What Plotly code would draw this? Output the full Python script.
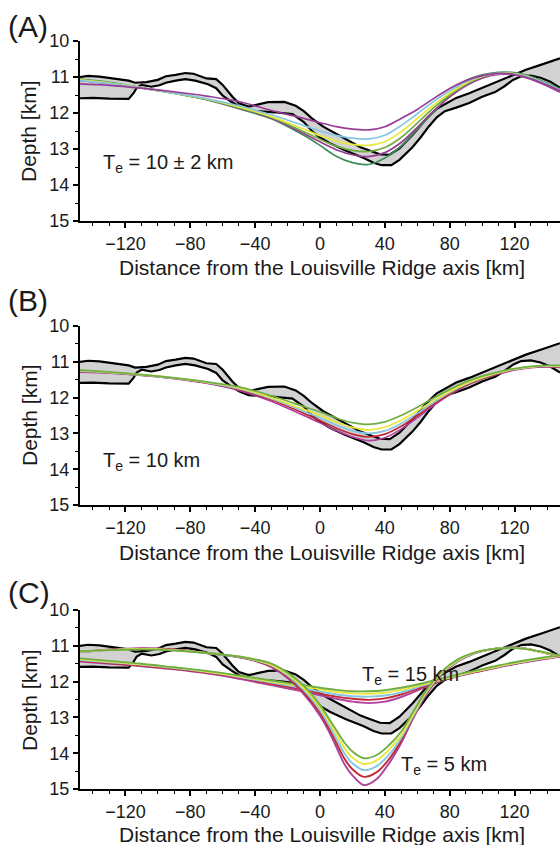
import plotly.graph_objects as go

# ---------------- data ----------------
# observed bathymetry envelope (km along profile, depth km)
TOP_X = [-148, -143, -136, -130, -124, -118, -114, -107, -100, -95, -89, -83, -78, -74, -70, -64, -60, -54, -50, -44,
         -39, -32, -22, -15, -10, -5, 2, 10, 17, 25, 31, 37, 43, 49, 57, 62, 66, 72, 78, 84, 92, 100, 108, 117, 127, 137, 148]
TOP_D = [11.00, 10.97, 10.99, 11.03, 11.06, 11.10, 11.16, 11.14, 11.08, 10.98, 10.94, 10.89, 10.91, 10.98, 11.04, 11.06,
         11.22, 11.55, 11.73, 11.82, 11.77, 11.70, 11.69, 11.80, 11.95, 12.15, 12.38, 12.58, 12.75, 12.95, 13.05, 13.15,
         13.16, 12.98, 12.61, 12.35, 12.14, 11.88, 11.72, 11.58, 11.45, 11.30, 11.15, 10.97, 10.80, 10.65, 10.48]
BOT_X = [-148, -140, -130, -118, -115, -113, -110, -104, -99, -95, -89, -83, -77, -69, -64, -60, -55, -50, -44, -36,
         -28, -17, -10, -5, 0, 6, 16, 27, 33, 38, 44, 49, 53, 57, 62, 67, 72, 77, 84, 92, 100, 108, 114, 119, 124, 130,
         136, 142, 148]
BOT_D = [11.59, 11.58, 11.60, 11.61, 11.45, 11.30, 11.22, 11.27, 11.23, 11.16, 11.10, 11.06, 11.10, 11.20, 11.31, 11.52,
         11.68, 11.82, 11.93, 11.95, 11.98, 12.03, 12.25, 12.50, 12.68, 12.84, 13.05, 13.25, 13.38, 13.45, 13.45, 13.30,
         13.12, 12.95, 12.68, 12.38, 12.12, 11.95, 11.85, 11.72, 11.55, 11.42, 11.25, 11.08, 10.98, 10.96, 11.02, 11.13,
         11.30]

MODEL_X = [-148, -130, -110, -90, -70, -50, -30, -10, 0, 10, 20, 30, 40, 50, 60, 70, 80, 90, 100, 110, 120, 130, 140, 148]

# panel A models (Te = 10 +/- 2 km)
A_PURPLE1 = [11.19, 11.23, 11.31, 11.41, 11.53, 11.68, 11.93, 12.15, 12.27, 12.38, 12.45, 12.47, 12.38, 12.15, 11.90, 11.60, 11.32, 11.10, 10.96, 10.90, 10.93, 11.05, 11.22, 11.38]
A_BLUE = [11.10, 11.18, 11.30, 11.44, 11.60, 11.80, 12.05, 12.35, 12.50, 12.62, 12.70, 12.72, 12.62, 12.35, 12.02, 11.68, 11.38, 11.13, 10.97, 10.90, 10.92, 11.03, 11.20, 11.36]
A_YELLOW = [11.08, 11.17, 11.30, 11.44, 11.61, 11.83, 12.10, 12.45, 12.63, 12.78, 12.87, 12.90, 12.80, 12.52, 12.15, 11.78, 11.45, 11.17, 10.98, 10.90, 10.91, 11.02, 11.20, 11.37]
A_GREEN = [11.07, 11.16, 11.30, 11.45, 11.62, 11.85, 12.12, 12.52, 12.73, 12.92, 13.04, 13.07, 12.96, 12.68, 12.28, 11.86, 11.50, 11.20, 11.00, 10.90, 10.90, 11.01, 11.20, 11.38]
A_PURPLE2 = [11.10, 11.18, 11.31, 11.45, 11.62, 11.86, 12.14, 12.57, 12.80, 13.02, 13.16, 13.21, 13.10, 12.82, 12.40, 11.95, 11.55, 11.24, 11.03, 10.93, 10.94, 11.06, 11.25, 11.42]
A_DKGREEN = [11.06, 11.15, 11.30, 11.45, 11.63, 11.88, 12.16, 12.62, 12.90, 13.20, 13.38, 13.43, 13.25, 12.92, 12.45, 11.98, 11.50, 11.10, 10.94, 10.87, 10.88, 10.99, 11.17, 11.33]

# panel B models (Te = 10 km)
B_GREEN = [11.23, 11.28, 11.36, 11.45, 11.56, 11.70, 11.95, 12.25, 12.40, 12.57, 12.70, 12.75, 12.68, 12.50, 12.27, 12.01, 11.77, 11.56, 11.40, 11.28, 11.19, 11.13, 11.10, 11.10]
B_YELLOW = [11.24, 11.29, 11.36, 11.45, 11.57, 11.73, 12.00, 12.33, 12.50, 12.68, 12.83, 12.90, 12.82, 12.63, 12.37, 12.09, 11.83, 11.61, 11.44, 11.30, 11.20, 11.14, 11.11, 11.12]
B_BLUE = [11.26, 11.30, 11.37, 11.46, 11.58, 11.75, 12.03, 12.38, 12.57, 12.77, 12.93, 13.00, 12.93, 12.72, 12.44, 12.14, 11.86, 11.63, 11.45, 11.31, 11.21, 11.15, 11.12, 11.13]
B_RED = [11.27, 11.31, 11.37, 11.46, 11.59, 11.77, 12.06, 12.44, 12.64, 12.85, 13.02, 13.10, 13.02, 12.80, 12.50, 12.18, 11.89, 11.65, 11.47, 11.33, 11.22, 11.15, 11.13, 11.14]
B_PURPLE = [11.29, 11.32, 11.38, 11.47, 11.60, 11.80, 12.10, 12.50, 12.70, 12.92, 13.10, 13.20, 13.12, 12.88, 12.56, 12.22, 11.92, 11.67, 11.48, 11.34, 11.23, 11.16, 11.14, 11.15]

# panel C models, Te = 15 km
C15_GREEN = [11.35, 11.42, 11.50, 11.60, 11.70, 11.83, 11.97, 12.10, 12.17, 12.23, 12.27, 12.27, 12.24, 12.17, 12.08, 11.97, 11.86, 11.75, 11.65, 11.55, 11.46, 11.38, 11.31, 11.26]
C15_YELLOW = [11.37, 11.44, 11.52, 11.61, 11.72, 11.85, 12.00, 12.14, 12.22, 12.29, 12.33, 12.34, 12.31, 12.23, 12.12, 12.00, 11.88, 11.77, 11.67, 11.57, 11.48, 11.40, 11.33, 11.28]
C15_BLUE = [11.40, 11.46, 11.53, 11.62, 11.73, 11.87, 12.03, 12.19, 12.28, 12.36, 12.41, 12.42, 12.39, 12.30, 12.16, 12.02, 11.89, 11.78, 11.68, 11.58, 11.49, 11.41, 11.34, 11.29]
C15_RED = [11.42, 11.48, 11.55, 11.64, 11.75, 11.89, 12.06, 12.23, 12.33, 12.42, 12.48, 12.51, 12.47, 12.36, 12.20, 12.04, 11.90, 11.79, 11.69, 11.59, 11.50, 11.42, 11.35, 11.30]
C15_PURPLE = [11.44, 11.50, 11.57, 11.66, 11.77, 11.92, 12.10, 12.28, 12.38, 12.48, 12.56, 12.60, 12.56, 12.43, 12.25, 12.06, 11.91, 11.80, 11.70, 11.60, 11.51, 11.43, 11.36, 11.31]

# panel C models, Te = 5 km
C5_X = [-148, -130, -110, -90, -70, -50, -40, -30, -20, -10, 0, 5, 10, 15, 20, 27, 35, 42, 50, 57, 65, 75, 85, 95, 105, 115, 125, 135, 148]
C5_GREEN = [11.15, 11.12, 11.10, 11.13, 11.20, 11.30, 11.38, 11.50, 11.75, 12.12, 12.65, 13.00, 13.35, 13.70, 13.95, 14.14, 14.05, 13.80, 13.40, 12.88, 12.28, 11.72, 11.38, 11.19, 11.10, 11.06, 11.08, 11.15, 11.28]
C5_YELLOW = [11.16, 11.12, 11.09, 11.12, 11.20, 11.30, 11.39, 11.53, 11.79, 12.18, 12.72, 13.08, 13.46, 13.85, 14.12, 14.30, 14.20, 13.93, 13.50, 12.95, 12.32, 11.75, 11.40, 11.20, 11.10, 11.06, 11.08, 11.16, 11.29]
C5_BLUE = [11.17, 11.12, 11.09, 11.12, 11.20, 11.31, 11.40, 11.55, 11.83, 12.24, 12.80, 13.17, 13.58, 14.00, 14.28, 14.47, 14.36, 14.07, 13.58, 13.00, 12.35, 11.77, 11.42, 11.21, 11.10, 11.05, 11.07, 11.16, 11.29]
C5_RED = [11.17, 11.11, 11.08, 11.11, 11.20, 11.31, 11.41, 11.57, 11.87, 12.30, 12.87, 13.26, 13.70, 14.15, 14.45, 14.66, 14.53, 14.20, 13.65, 13.03, 12.37, 11.79, 11.43, 11.21, 11.10, 11.05, 11.07, 11.16, 11.30]
C5_PURPLE = [11.18, 11.11, 11.07, 11.10, 11.20, 11.32, 11.42, 11.60, 11.90, 12.35, 12.95, 13.35, 13.82, 14.30, 14.62, 14.89, 14.72, 14.32, 13.72, 13.07, 12.40, 11.80, 11.44, 11.22, 11.10, 11.05, 11.07, 11.16, 11.30]

X_TICKS = [-120, -80, -40, 0, 40, 80, 120]
Y_TICKS = [10, 11, 12, 13, 14, 15]
PANEL_LABELS = ["(A)", "(B)", "(C)"]
X_TITLE = "Distance from the Louisville Ridge axis [km]"
Y_TITLE = "Depth [km]"

# ---------------- style ----------------
W, H = 560, 845
FONT = "Liberation Sans, Arial, Helvetica, sans-serif"
TXT = "#1a1a1a"
GRAY = "#d2d2d2"
PURPLE = "#9a3c96"
BLUE = "#86c6e2"
YELLOW = "#e8e83c"
GREEN = "#6fae45"
DKGREEN = "#3f8c5c"
RED = "#c02a36"
MAGENTA = "#b0409c"

fig = go.Figure()


def add_bathy(xa, ya):
    poly_x = TOP_X + BOT_X[::-1]
    poly_y = TOP_D + BOT_D[::-1]
    fig.add_trace(go.Scatter(x=poly_x, y=poly_y, fill="toself", fillcolor=GRAY, mode="lines",
                             line=dict(width=0, color=GRAY), xaxis=xa, yaxis=ya, hoverinfo="skip"))
    fig.add_trace(go.Scatter(x=TOP_X, y=TOP_D, mode="lines", line=dict(color="black", width=2.2),
                             xaxis=xa, yaxis=ya))
    fig.add_trace(go.Scatter(x=BOT_X, y=BOT_D, mode="lines", line=dict(color="black", width=2.2),
                             xaxis=xa, yaxis=ya))


def add_model(xs, ys, color, xa, ya, w=1.7):
    fig.add_trace(go.Scatter(x=xs, y=ys, mode="lines", line=dict(color=color, width=w, shape="spline", smoothing=0.9),
                             xaxis=xa, yaxis=ya))


# Panel A
add_bathy("x", "y")
for ys, c in [(A_DKGREEN, DKGREEN), (A_PURPLE2, PURPLE), (A_GREEN, GREEN), (A_YELLOW, YELLOW),
              (A_BLUE, BLUE), (A_PURPLE1, PURPLE)]:
    add_model(MODEL_X, ys, c, "x", "y")

# Panel B
add_bathy("x2", "y2")
for ys, c in [(B_PURPLE, MAGENTA), (B_RED, RED), (B_BLUE, BLUE), (B_YELLOW, YELLOW), (B_GREEN, GREEN)]:
    add_model(MODEL_X, ys, c, "x2", "y2")

# Panel C
add_bathy("x3", "y3")
for ys, c in [(C15_PURPLE, MAGENTA), (C15_RED, RED), (C15_BLUE, BLUE), (C15_YELLOW, YELLOW), (C15_GREEN, GREEN)]:
    add_model(MODEL_X, ys, c, "x3", "y3", w=1.9)
for ys, c in [(C5_PURPLE, MAGENTA), (C5_RED, RED), (C5_BLUE, BLUE), (C5_YELLOW, YELLOW), (C5_GREEN, GREEN)]:
    add_model(C5_X, ys, c, "x3", "y3", w=1.9)

# axes
XDOM = [80 / W, 1.0]
YDOMS = [[1 - 221 / H, 1 - 41 / H], [1 - 505 / H, 1 - 326 / H], [1 - 789 / H, 1 - 610 / H]]

layout = dict(
    width=W, height=H, showlegend=False,
    margin=dict(l=0, r=0, t=0, b=0),
    paper_bgcolor="white", plot_bgcolor="white",
    font=dict(family=FONT, color=TXT, size=18),
)
for i in range(3):
    sx = "" if i == 0 else str(i + 1)
    layout["xaxis" + sx] = dict(
        domain=XDOM, anchor="y" + sx, range=[-148, 148], tickvals=X_TICKS,
        showgrid=False, zeroline=False, showline=True, linecolor="black", linewidth=2,
        ticks="outside", ticklen=5, tickwidth=1.5, tickcolor="black",
        minor=dict(dtick=10, tick0=0, ticks="outside", ticklen=3, tickwidth=1.2, tickcolor="black"),
        tickfont=dict(size=18, family=FONT, color=TXT), automargin=False, fixedrange=True,
    )
    layout["yaxis" + sx] = dict(
        domain=YDOMS[i], anchor="x" + sx, range=[15, 10], tickvals=Y_TICKS,
        showgrid=False, zeroline=False, showline=True, linecolor="black", linewidth=2,
        ticks="outside", ticklen=5, tickwidth=1.5, tickcolor="black",
        minor=dict(dtick=0.5, tick0=10, ticks="outside", ticklen=3, tickwidth=1.2, tickcolor="black"),
        tickfont=dict(size=18, family=FONT, color=TXT), automargin=False, fixedrange=True,
    )
fig.update_layout(**layout)

annotations = []
label_y = [27, 300, 592]
xtitle_y = [268, 552, 834]
ytitle_y = [131, 415, 700]
for i in range(3):
    annotations.append(dict(text=PANEL_LABELS[i], x=6 / W, y=1 - label_y[i] / H, xref="paper", yref="paper",
                            xanchor="left", yanchor="middle", showarrow=False,
                            font=dict(size=30, family=FONT, color=TXT)))
    annotations.append(dict(text=X_TITLE, x=(80 + W) / 2 / W + 2 / W, y=1 - xtitle_y[i] / H, xref="paper", yref="paper",
                            xanchor="center", yanchor="middle", showarrow=False,
                            font=dict(size=21, family=FONT, color=TXT)))
    annotations.append(dict(text=Y_TITLE, x=29 / W, y=1 - ytitle_y[i] / H, xref="paper", yref="paper",
                            xanchor="center", yanchor="middle", textangle=-90, showarrow=False,
                            font=dict(size=21, family=FONT, color=TXT)))

te_notes = [
    ("T<sub>e</sub> = 10 ± 2 km", -135, 13.39, "x", "y"),
    ("T<sub>e</sub> = 10 km", -135, 13.79, "x2", "y2"),
    ("T<sub>e</sub> = 15 km", 24.5, 11.82, "x3", "y3"),
    ("T<sub>e</sub> = 5 km", 48.5, 14.33, "x3", "y3"),
]
for t, x, y, xr, yr in te_notes:
    annotations.append(dict(text=t, x=x, y=y, xref=xr, yref=yr, xanchor="left", yanchor="middle",
                            showarrow=False, font=dict(size=20, family=FONT, color=TXT)))
fig.update_layout(annotations=annotations)

fig.write_html("out.html")
